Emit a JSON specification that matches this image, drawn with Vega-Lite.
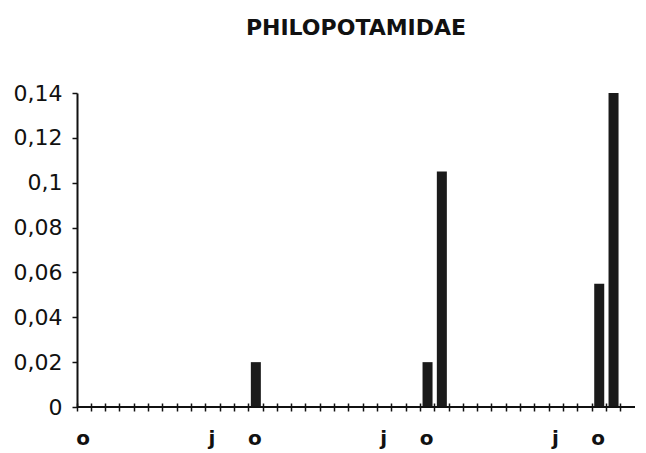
{
  "$schema": "https://vega.github.io/schema/vega-lite/v6.json",
  "width": 558,
  "height": 314,
  "autosize": "none",
  "padding": {"left": 77, "top": 93, "right": 11, "bottom": 46},
  "background": "white",
  "title": {"text": "PHILOPOTAMIDAE", "font": "DejaVu Sans", "fontSize": 22, "fontWeight": "bold", "color": "#111111", "anchor": "middle", "offset": 42},
  "config": {"view": {"stroke": null}, "axis": {"grid": false}},
  "data": {"values": [
    {"mois": 0, "valeur": 0}, {"mois": 1, "valeur": 0}, {"mois": 2, "valeur": 0}, {"mois": 3, "valeur": 0},
    {"mois": 4, "valeur": 0}, {"mois": 5, "valeur": 0}, {"mois": 6, "valeur": 0}, {"mois": 7, "valeur": 0},
    {"mois": 8, "valeur": 0}, {"mois": 9, "valeur": 0}, {"mois": 10, "valeur": 0}, {"mois": 11, "valeur": 0},
    {"mois": 12, "valeur": 0.02}, {"mois": 13, "valeur": 0}, {"mois": 14, "valeur": 0}, {"mois": 15, "valeur": 0},
    {"mois": 16, "valeur": 0}, {"mois": 17, "valeur": 0}, {"mois": 18, "valeur": 0}, {"mois": 19, "valeur": 0},
    {"mois": 20, "valeur": 0}, {"mois": 21, "valeur": 0}, {"mois": 22, "valeur": 0}, {"mois": 23, "valeur": 0},
    {"mois": 24, "valeur": 0.02}, {"mois": 25, "valeur": 0.105}, {"mois": 26, "valeur": 0}, {"mois": 27, "valeur": 0},
    {"mois": 28, "valeur": 0}, {"mois": 29, "valeur": 0}, {"mois": 30, "valeur": 0}, {"mois": 31, "valeur": 0},
    {"mois": 32, "valeur": 0}, {"mois": 33, "valeur": 0}, {"mois": 34, "valeur": 0}, {"mois": 35, "valeur": 0},
    {"mois": 36, "valeur": 0.055}, {"mois": 37, "valeur": 0.14}, {"mois": 38, "valeur": 0}
  ]},
  "layer": [
    {
      "mark": {"type": "bar", "color": "#1a1a1a", "width": {"band": 0.7}},
      "encoding": {
        "x": {
          "field": "mois", "type": "ordinal",
          "scale": {"paddingInner": 0, "paddingOuter": 0},
          "axis": {
            "title": null, "bandPosition": 0, "labelOffset": -1, "labelAngle": 0,
            "labelExpr": "datum.value % 12 == 0 ? 'o' : (datum.value % 12 == 9 ? 'j' : '')",
            "domain": false, "offset": -4, "tickSize": 8, "tickColor": "#111111", "tickWidth": 1.5,
            "labelFont": "DejaVu Sans", "labelFontSize": 20, "labelFontWeight": "bold", "labelColor": "#111111", "labelPadding": 17
          }
        },
        "y": {
          "field": "valeur", "type": "quantitative",
          "scale": {"domain": [0, 0.14], "nice": false},
          "axis": {
            "title": null, "values": [0, 0.02, 0.04, 0.06, 0.08, 0.1, 0.12, 0.14],
            "labelExpr": "replace(format(datum.value, '~g'), '.', ',')",
            "domainColor": "#111111", "domainWidth": 2, "tickSize": 5, "tickColor": "#111111", "tickWidth": 1.5,
            "labelFont": "DejaVu Sans", "labelFontSize": 22, "labelColor": "#111111", "labelPadding": 10
          }
        }
      }
    },
    {
      "mark": {"type": "rule", "color": "#111111", "strokeWidth": 2},
      "encoding": {"y": {"datum": 0}}
    }
  ]
}
